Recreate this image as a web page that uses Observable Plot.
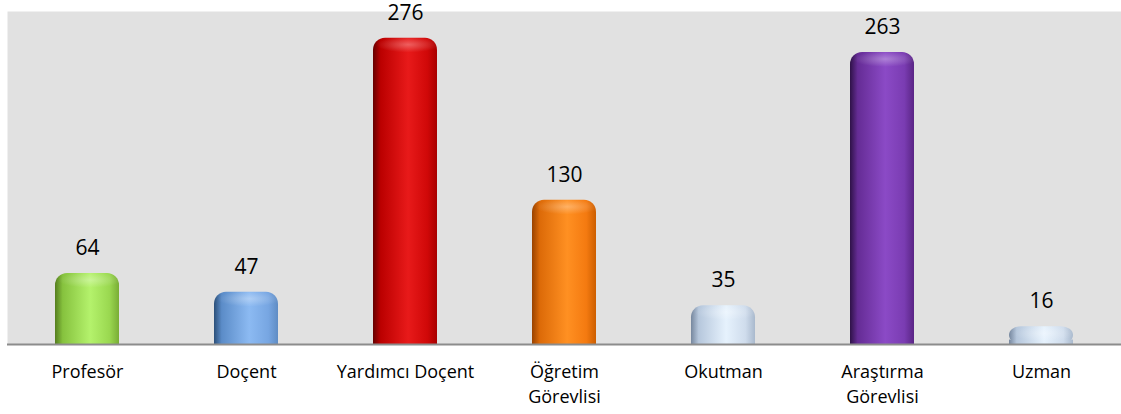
<!DOCTYPE html>
<html><head><meta charset="utf-8">
<script src="https://cdn.jsdelivr.net/npm/d3@7"></script>
<script src="https://cdn.jsdelivr.net/npm/@observablehq/plot@0.6"></script>
<style>body{margin:0;background:#fff;} svg{display:block;}</style>
</head><body><div id="chart"></div>
<script>
const categories = ["Profesör","Doçent","Yardımcı Doçent","Öğretim Görevlisi","Okutman","Araştırma Görevlisi","Uzman"];
const tickLabels = ["Profesör","Doçent","Yardımcı Doçent","Öğretim\nGörevlisi","Okutman","Araştırma\nGörevlisi","Uzman"];
const values = [64,47,276,130,35,263,16];
// gradient stops per bar: left edge, mid, highlight, right-mid, right edge
const palettes = [
  ["#557d1e","#86c23e","#b4f26c","#9ad850","#79ad35"],
  ["#2b4f79","#5b8cc8","#8cbaf2","#77a6e2","#5f8cc4"],
  ["#660000","#bb0000","#e81a1a","#d00808","#a80000"],
  ["#9a4300","#dc6a08","#ff9022","#f47a10","#cc5e00"],
  ["#76879e","#b6c7dc","#e6f2fd","#cfdcec","#a9b9cd"],
  ["#2f1248","#652c95","#8b4ac6","#7a3cb2","#5a2585"],
  ["#76879e","#b6c7dc","#e6f2fd","#cfdcec","#a9b9cd"]
];
const data = categories.map((c,i)=>({cat:c, value:values[i]}));
const tickMap = new Map(categories.map((c,i)=>[c,tickLabels[i]]));
const font = "'Open Sans', sans-serif";
const color = {domain: categories, range: categories.map((c,i)=>`url(#g${i})`)};
const capUnits = 12;

const chart = Plot.plot({
  width: 1121, height: 414,
  marginLeft: 7, marginRight: 0, marginTop: 11, marginBottom: 70,
  style: {fontFamily: font, background: "#fff"},
  x: {domain: categories, paddingInner: 0.6, paddingOuter: 0.3, label: null},
  y: {domain: [0,300], axis: null},
  color,
  marks: [
    Plot.frame({fill: "#e1e1e1", stroke: null}),
    Plot.barY(data, {x: "cat", y: "value", fill: "cat", rx: 12}),
    Plot.barY(data, {x: "cat", y1: 0, y2: d => Math.max(0, d.value - capUnits), fill: "cat"}),
    Plot.barY(data, {x: "cat", y1: d => Math.max(0, d.value - 14), y2: "value", fill: "url(#hl)", rx: 12}),
    Plot.ruleY([0], {stroke: "#8c8c8c", strokeWidth: 2}),
    Plot.axisX({tickSize: 0, tickPadding: 16, fontSize: 18, lineHeight: 1.38, fill: "#000", label: null, tickFormat: d => tickMap.get(d)}),
    Plot.text(data, {x: "cat", y: "value", text: d => String(d.value), lineAnchor: "middle", dy: -25, fontSize: 21, fill: "#000"})
  ]
});
const svg = d3.select(chart.tagName.toLowerCase() === "svg" ? chart : chart.querySelector("svg"));
const defs = svg.insert("defs", ":first-child");
palettes.forEach((p,i)=>{
  const g = defs.append("linearGradient").attr("id", `g${i}`).attr("x1","0").attr("x2","1").attr("y1","0").attr("y2","0");
  [[0,p[0]],[0.12,p[1]],[0.55,p[2]],[0.85,p[3]],[1,p[4]]].forEach(([o,c])=>g.append("stop").attr("offset",o).attr("stop-color",c));
});
const hl = defs.append("radialGradient").attr("id","hl").attr("cx","0.55").attr("cy","0.45").attr("r","0.5");
hl.append("stop").attr("offset",0).attr("stop-color","#fff").attr("stop-opacity",0.3);
hl.append("stop").attr("offset",1).attr("stop-color","#fff").attr("stop-opacity",0);
document.getElementById("chart").appendChild(chart);
</script></body></html>
